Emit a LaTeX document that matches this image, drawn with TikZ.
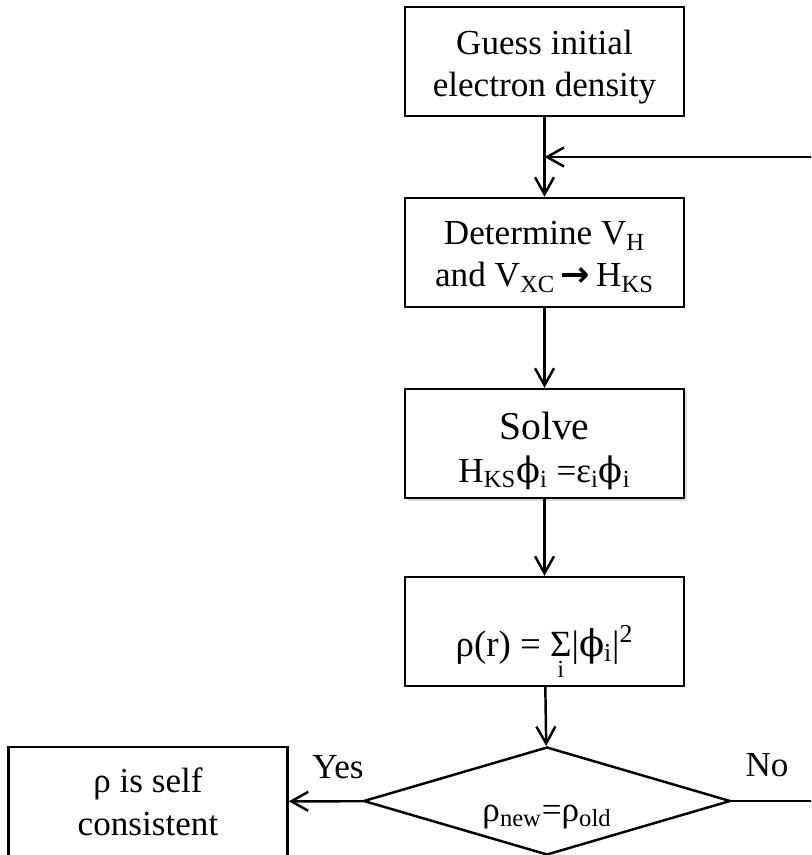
\documentclass[tikz,border=0pt]{standalone}
\usepackage{fontspec}
\setmainfont{Liberation Serif}
\newfontfamily\arrowfont{DejaVu Sans}
\newfontfamily\phifont{DejaVu Serif}
\newcommand{\phisym}{{\phifont ϕ}}
\usetikzlibrary{shapes.geometric,arrows.meta,shadows}
\begin{document}
\begin{tikzpicture}[line width=1.4pt,
    >={Straight Barb[length=0.34cm,width=0.38cm]},
    stepbox/.style={rectangle,draw,minimum width=5.58cm,minimum height=2.18cm,inner sep=0pt,align=center,text height=1.4cm,text depth=0cm,font=\fontsize{20}{24}\selectfont},
    decision/.style={diamond,draw,minimum width=7.34cm,minimum height=2.16cm,inner sep=0pt},
    plain/.style={inner sep=0pt,font=\fontsize{20}{24}\selectfont} ]
    \clip (0,0) rectangle (16.22,-17.1);
    \node at (10.89,-1.23) [stepbox] (guess) {Guess initial\\electron density};
    \node at (10.89,-5.05) [stepbox,text height=1.38cm] (determ) {Determine V\textsubscript{H}\\and V\textsubscript{XC}\,{\arrowfont\bfseries →}\,H\textsubscript{KS}};
    \node at (10.89,-8.87) [stepbox,text height=1.54cm,fill=white,drop shadow={opacity=0.3,shadow xshift=0.05cm,shadow yshift=-0.06cm}] (solve) {{\fontsize{22.5}{27}\selectfont Solve}\\H\textsubscript{KS}\phisym\textsubscript{i} =ε\textsubscript{i}\phisym\textsubscript{i}};
    \node at (10.89,-12.63) [stepbox,font=\fontsize{21}{24}\selectfont,text height=0.98cm] (dens) {ρ(r) = \vtop{\offinterlineskip\halign{\hfil#\hfil\cr Σ\cr\noalign{\kern3pt}\fontsize{14}{14}\selectfont i\cr}}|\phisym\textsubscript{i}|\textsuperscript{2}};
    \node at (10.94,-16.02) [decision] (check) {};
    \node at ([yshift=-0.32cm]check.center) [plain] (checktext) {ρ\textsubscript{new}=ρ\textsubscript{old}};
    \node at (2.96,-16.03) [stepbox,text height=1.34cm] (done) {ρ is self\\consistent};
    \node at (6.76,-15.34) [plain] (yes) {Yes};
    \node at (15.34,-15.30) [plain] (no) {No};
    \coordinate (join) at (10.89,-3.14);
    \coordinate (corner) at (16.6,-16.02);
    \draw [->] (guess) to (determ);
    \draw [->] (determ) to (solve);
    \draw [->] (solve) to (dens);
    \draw [->] (dens) to (check);
    \draw [->] (check) to (done);
    \draw [->] (check.east) -- (corner) |- (join);
\end{tikzpicture}
\end{document}
